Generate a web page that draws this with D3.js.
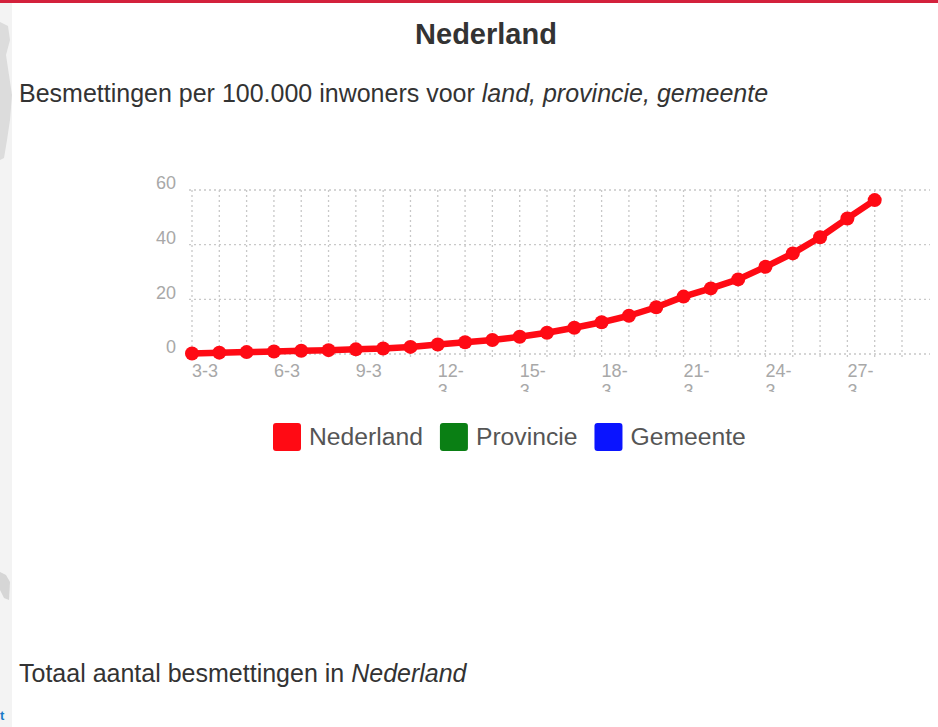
<!DOCTYPE html>
<html>
<head>
<meta charset="utf-8">
<script src="https://cdn.jsdelivr.net/npm/d3@7"></script>
<style>
  html, body { margin: 0; padding: 0; background: #fff; }
  svg { display: block; font-family: "Liberation Sans", Arial, sans-serif; }
</style>
</head>
<body>
<svg id="page" width="938" height="727"></svg>
<script>
// Dates on the category axis (gridline per day)
const dates = ["3-3","4-3","5-3","6-3","7-3","8-3","9-3","10-3","11-3","12-3","13-3","14-3","15-3",
               "16-3","17-3","18-3","19-3","20-3","21-3","22-3","23-3","24-3","25-3","26-3","27-3","28-3","29-3"];
// Infections per 100.000 inhabitants, the Netherlands
const nederland = [0.2, 0.5, 0.7, 0.9, 1.2, 1.4, 1.7, 2.0, 2.6, 3.5, 4.3, 5.1, 6.3,
                   7.8, 9.6, 11.6, 14.0, 17.1, 21.0, 24.0, 27.3, 31.9, 36.8, 42.7, 49.6, 56.3];
const yTicks = [0, 20, 40, 60];
const seriesNames = ["Nederland", "Provincie", "Gemeente"];
const seriesColors = ["#ff0a14", "#0a7f14", "#0a14ff"];

const svg = d3.select("#page");

// page chrome: red top border, grey side strip
svg.append("rect").attr("x", 0).attr("y", 0).attr("width", 938).attr("height", 727).attr("fill", "#fff");
svg.append("rect").attr("x", 0).attr("y", 0).attr("width", 12).attr("height", 727).attr("fill", "#f3f3f3");
svg.append("path").attr("fill", "#dcdcdc")
  .attr("d", "M0,22 L8,26 L10,40 L6,55 L9,75 L12,95 L10,120 L7,140 L4,158 L0,160 Z");
svg.append("path").attr("fill", "#d6d6d6")
  .attr("d", "M0,572 L6,575 L10,582 L9,600 L4,598 L0,590 Z");
svg.append("rect").attr("x", 0).attr("y", 0).attr("width", 938).attr("height", 3).attr("fill", "#d3213c");
svg.append("text").attr("x", 0).attr("y", 720).attr("fill", "#1a7ac8")
  .attr("font-size", 13).attr("font-weight", "bold").text("t");

// headings
svg.append("text").attr("x", 486).attr("y", 44).attr("text-anchor", "middle")
  .attr("font-size", 29).attr("font-weight", "bold").attr("fill", "#333").text("Nederland");

const sub = svg.append("text").attr("x", 19).attr("y", 102).attr("font-size", 25).attr("fill", "#333");
sub.append("tspan").text("Besmettingen per 100.000 inwoners voor ");
sub.append("tspan").attr("font-style", "italic").text("land, provincie, gemeente");

const tot = svg.append("text").attr("x", 19).attr("y", 682).attr("font-size", 25).attr("fill", "#333");
tot.append("tspan").text("Totaal aantal besmettingen in ");
tot.append("tspan").attr("font-style", "italic").text("Nederland");

// scales
const x = d3.scalePoint().domain(dates).range([192, 902]);
const y = d3.scaleLinear().domain([0, 60]).range([354, 190]);
const gridRight = 930;

// gridlines
const grid = svg.append("g").attr("stroke", "#c8c8c8").attr("stroke-width", 1.3)
  .attr("stroke-dasharray", "2,3").attr("fill", "none");
grid.selectAll("line.h").data(yTicks).join("line")
  .attr("x1", x(dates[0]) - 3).attr("x2", gridRight)
  .attr("y1", d => y(d)).attr("y2", d => y(d));
grid.selectAll("line.v").data(dates).join("line")
  .attr("x1", d => x(d)).attr("x2", d => x(d))
  .attr("y1", y(60)).attr("y2", y(0) + 4);

// y axis labels
svg.append("g").selectAll("text").data(yTicks).join("text")
  .attr("x", 176).attr("y", d => y(d) - 7).attr("dy", "0.35em")
  .attr("text-anchor", "end").attr("font-size", 18).attr("fill", "#a8a8a8")
  .text(d => d);

// x axis labels: every third day, wrapped at the dash, clipped below
svg.append("defs").append("clipPath").attr("id", "xclip")
  .append("rect").attr("x", 150).attr("y", 355).attr("width", 800).attr("height", 37);
const xl = svg.append("g").attr("clip-path", "url(#xclip)");
const shown = dates.filter((d, i) => i % 3 === 0 && i < nederland.length);
shown.forEach(d => {
  const t = xl.append("text").attr("x", x(d)).attr("y", 377)
    .attr("font-size", 18).attr("fill", "#a8a8a8");
  const [day, month] = d.split("-");
  if (day.length > 1) {
    t.append("tspan").attr("x", x(d)).text(day + "-");
    t.append("tspan").attr("x", x(d)).attr("dy", 20).text(month);
  } else {
    t.text(d);
  }
});

// series line and points
svg.append("path").datum(nederland)
  .attr("fill", "none").attr("stroke", seriesColors[0]).attr("stroke-width", 6.5)
  .attr("stroke-linejoin", "round")
  .attr("d", d3.line().x((v, i) => x(dates[i])).y(v => y(v)));
svg.append("g").selectAll("circle").data(nederland).join("circle")
  .attr("cx", (v, i) => x(dates[i])).attr("cy", v => y(v)).attr("r", 7)
  .attr("fill", seriesColors[0]);

// legend
const legend = svg.append("g");
let lx = 273;
seriesNames.forEach((name, i) => {
  legend.append("rect").attr("x", lx).attr("y", 423).attr("width", 28).attr("height", 28)
    .attr("rx", 3).attr("fill", seriesColors[i]);
  const t = legend.append("text").attr("x", lx + 36).attr("y", 445)
    .attr("font-size", 24.7).attr("fill", "#555").text(name);
  lx += 36 + t.node().getComputedTextLength() + 17;
});
</script>
</body>
</html>
